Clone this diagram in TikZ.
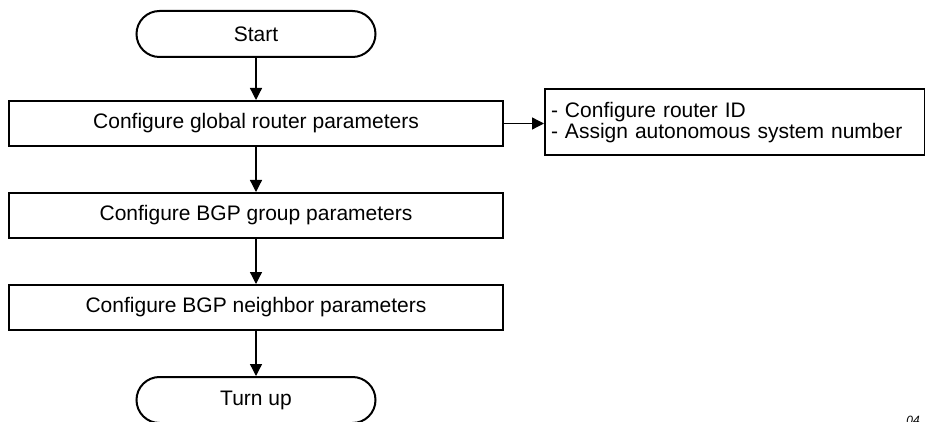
\documentclass[tikz,border=0pt]{standalone}
\usepackage{fontspec}
\setmainfont{Liberation Sans}
\usetikzlibrary{positioning,arrows.meta}

\begin{document}
\begin{tikzpicture}[x=0.5pt,y=-0.5pt,node distance=22.5pt,>={Triangle[length=6pt,width=6pt]}]
  \useasboundingbox (0,0) rectangle (925,422);
  \tikzset{
    terminal/.style={rectangle,rounded corners=11.5pt,draw=black,line width=1pt,
      minimum width=119.5pt,minimum height=23pt,inner sep=0pt,font=\fontsize{10.5}{12}\selectfont},
    process/.style={rectangle,draw=black,line width=1pt,
      minimum width=247pt,minimum height=22.5pt,inner sep=0pt,font=\fontsize{10.5}{12}\selectfont},
    noteBox/.style={rectangle,draw=black,line width=1pt,minimum width=190pt,minimum height=33pt,
      text width=184pt,inner xsep=3pt,align=left,font=\fontsize{10.5}{8.8}\selectfont},
    figId/.style={inner sep=0pt,font=\fontsize{6}{6}\itshape},
    % edge styles
    flow/.style={->,line width=0.65pt,draw=black}
  }

  %%% Main flow

  \node[terminal] (start) at (256,34) {Start};
  \node[process] (global) [below=21pt of start] {Configure global router parameters};
  \node[process] (group) [below=of global] {Configure BGP group parameters};
  \node[process] (neighbor) [below=of group] {Configure BGP neighbor parameters};
  \node[terminal] (turnup) [below=of neighbor] {Turn up};

  \draw[flow] (start) -- (global);
  \draw[flow] (global) -- (group);
  \draw[flow] (group) -- (neighbor);
  \draw[flow] (neighbor) -- (turnup);

  %%% Global parameters note

  \node[noteBox] (globalNote) [right=20pt of global, yshift=0.5pt] {- Configure router ID\\- Assign autonomous system number};
  \draw[flow] (global.east) -- (global.east -| globalNote.west);

  % Figure number
  \node[figId,anchor=north west] (figNum) at (906,416) {04};

\end{tikzpicture}
\end{document}
